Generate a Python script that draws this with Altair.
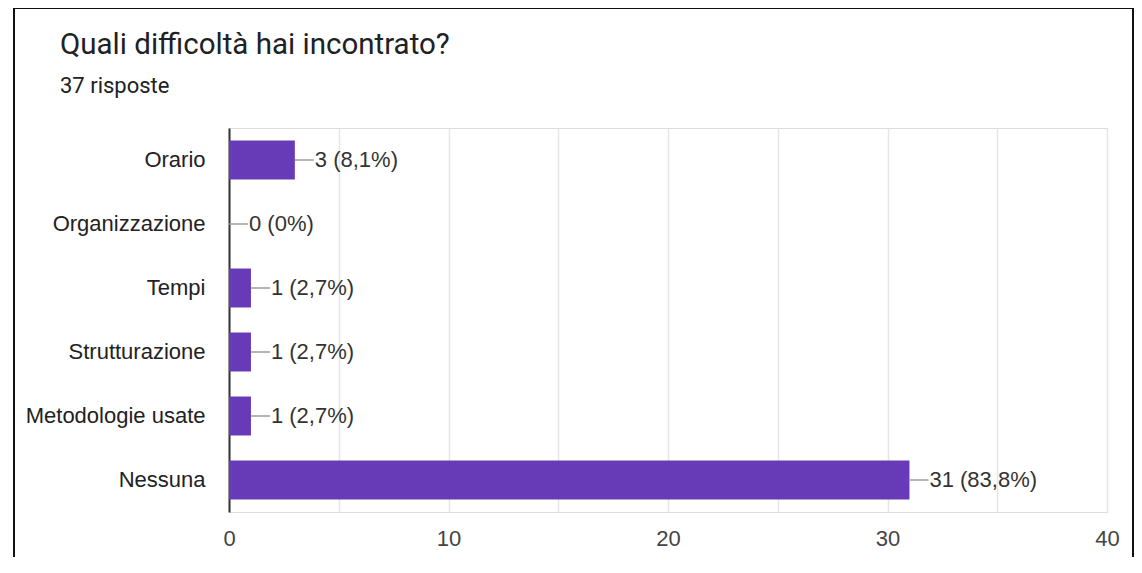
import altair as alt
import pandas as pd

title_text = "Quali difficoltà hai incontrato?"
subtitle_text = "37 risposte"
categories = ["Orario", "Organizzazione", "Tempi", "Strutturazione", "Metodologie usate", "Nessuna"]
counts = [3, 0, 1, 1, 1, 31]
percents = ["8,1%", "0%", "2,7%", "2,7%", "2,7%", "83,8%"]
x_ticks = [0, 5, 10, 15, 20, 25, 30, 35, 40]

df = pd.DataFrame({
    "categoria": categories,
    "risposte": counts,
    "etichetta": [f"{c} ({p})" for c, p in zip(counts, percents)],
})

LABEL_FONT = "Liberation Sans"
TITLE_FONT = "Roboto"
PURPLE = "#673ab7"

y_enc = alt.Y("categoria:N", sort=categories, title=None,
              scale=alt.Scale(paddingInner=0.39, paddingOuter=0.195),
              axis=alt.Axis(ticks=False, labelPadding=24, labelFontSize=22, labelFont=LABEL_FONT,
                            labelColor="#222222", domainColor="#333333", domainWidth=2,
                            grid=False))
x_enc = alt.X("risposte:Q", title=None,
              scale=alt.Scale(domain=[0, 40], nice=False),
              axis=alt.Axis(values=x_ticks, labelExpr="datum.value % 10 == 0 ? datum.label : ''",
                            ticks=False, domain=False, grid=True, gridColor="#e6e6e6",
                            gridWidth=1.5, labelFontSize=22, labelFont=LABEL_FONT,
                            labelColor="#444444", labelPadding=16, labelFlush=False))

base = alt.Chart(df)

bars = base.mark_bar(color=PURPLE, size=39).encode(x=x_enc, y=y_enc)

leader = base.mark_rule(color="#9e9e9e", strokeWidth=1.5, x2Offset=19).encode(
    x="risposte:Q", x2="risposte:Q", y=alt.Y("categoria:N", sort=categories))

labels = base.mark_text(align="left", baseline="middle", dx=20, fontSize=22, font=LABEL_FONT,
                        color="#333333").encode(
    x="risposte:Q", y=alt.Y("categoria:N", sort=categories), text="etichetta:N")

frame = base.mark_rect(fill=None, stroke="#111111", strokeWidth=2, clip=False).encode(
    x=alt.value(-215), x2=alt.value(904), y=alt.value(-120), y2=alt.value(600))

title = alt.Chart(pd.DataFrame({"t": [title_text]})).mark_text(
    align="left", baseline="alphabetic", font=TITLE_FONT, fontSize=29.5, color="#202124"
).encode(x=alt.value(-169), y=alt.value(-74), text="t:N")

subtitle = alt.Chart(pd.DataFrame({"t": [subtitle_text]})).mark_text(
    align="left", baseline="alphabetic", font=TITLE_FONT, fontSize=22, color="#202124"
).encode(x=alt.value(-169), y=alt.value(-35), text="t:N")

chart = alt.layer(frame, bars, leader, labels, title, subtitle).properties(
    width=878, height=384,
    autosize=alt.AutoSizeParams(type="none"),
    padding={"left": 221, "top": 120, "right": 27, "bottom": 45},
).configure_view(stroke="#e6e6e6", strokeWidth=1.5).configure(background="white")

chart.save("out.html", embed_options={"renderer": "svg", "actions": False})
